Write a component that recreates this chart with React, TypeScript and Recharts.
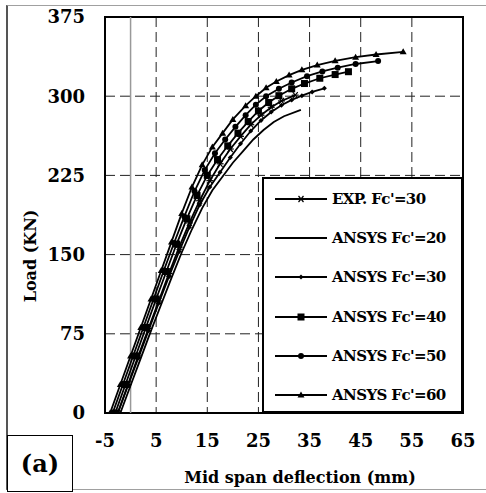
import React from 'react';
import { LineChart, Line, XAxis, YAxis, CartesianGrid, ReferenceLine, ReferenceArea, Legend } from 'recharts';

// Mid span deflection (mm) / Load (KN)
const expFc30X = [-2.5, -0.5, 1.5, 3.5, 5.5, 7.5, 9.5, 11.5, 13.5, 15.5, 17.5, 19.5, 21.5, 23.5, 25.5, 27.5, 29.5, 32.2];
const expFc30Y = [0, 27, 54, 80, 106, 132, 157, 180, 201, 220, 236, 250, 262, 273, 282, 289.5, 295.5, 301];

const ansysFc20X = [-2, 0, 2, 4, 6, 8, 10, 12, 14, 16, 18, 20, 22, 24, 26, 28, 30, 33.3];
const ansysFc20Y = [0, 26, 52, 78, 103, 128, 152, 174, 194, 211, 224, 237, 248, 259, 268, 275.5, 281, 287];

const ansysFc30X = [-2.5, -0.5, 1.5, 3.5, 5.5, 7.5, 9.5, 11.5, 13.5, 15.5, 17.5, 19.5, 21.5, 23.5, 25.5, 27.5, 29.5, 31.5, 33.5, 35.5, 37.9];
const ansysFc30Y = [0, 26, 52, 78, 104, 129, 153, 176, 197, 214, 228, 242, 255, 267, 277, 285, 291.5, 296.5, 300.5, 304, 307.5];

const ansysFc40X = [-3, -1, 1, 3, 5, 7, 9, 11, 13, 15, 17, 19, 21, 23, 25, 27, 29, 31.5, 34, 37, 40, 42.6];
const ansysFc40Y = [0, 27, 54, 81, 108, 134, 160, 184, 206, 225, 240, 253, 265, 276, 286, 294, 300.5, 307, 312, 317, 320.5, 323.2];

const ansysFc50X = [-3.5, -1.5, 0.5, 2.5, 4.5, 6.5, 8.5, 10.5, 12.5, 14.5, 16.5, 18.5, 20.5, 22.5, 24.5, 26.5, 29, 31.5, 34.5, 37.5, 40.5, 44, 48.4];
const ansysFc50Y = [0, 27, 54, 81, 108, 135, 161, 186, 210, 230, 246, 259, 271, 282, 292, 300, 307, 313, 319, 323.5, 327, 330.5, 333.3];

const ansysFc60X = [-4, -2, 0, 2, 4, 6, 8, 10, 12, 14, 16, 18, 20, 22.5, 24.5, 26.5, 28.5, 31, 33.5, 36.5, 40, 44, 48, 53.3];
const ansysFc60Y = [0, 27, 54, 81, 108, 135, 162, 189, 214, 235, 252, 265, 278, 291, 300, 308, 314, 320, 325, 329.5, 333.5, 337, 339.5, 342];

const xTicks = [-5, 5, 15, 25, 35, 45, 55, 65];
const yTicks = [0, 75, 150, 225, 300, 375];

const FONT = '"DejaVu Serif", serif';

type Shape = 'asterisk' | 'none' | 'diamond' | 'square' | 'circle' | 'triangle';

const zip = (xs: number[], ys: number[]) => xs.map((x, i) => ({ x, y: ys[i] }));

const series: { name: string; data: { x: number; y: number }[]; shape: Shape }[] = [
  { name: "EXP. Fc'=30", data: zip(expFc30X, expFc30Y), shape: 'asterisk' },
  { name: "ANSYS Fc'=20", data: zip(ansysFc20X, ansysFc20Y), shape: 'none' },
  { name: "ANSYS Fc'=30", data: zip(ansysFc30X, ansysFc30Y), shape: 'diamond' },
  { name: "ANSYS Fc'=40", data: zip(ansysFc40X, ansysFc40Y), shape: 'square' },
  { name: "ANSYS Fc'=50", data: zip(ansysFc50X, ansysFc50Y), shape: 'circle' },
  { name: "ANSYS Fc'=60", data: zip(ansysFc60X, ansysFc60Y), shape: 'triangle' },
];

// marker glyphs, used both on the curves and in the legend
const Marker = ({ shape, cx, cy }: { shape: Shape; cx: number; cy: number }) => {
  switch (shape) {
    case 'asterisk':
      return (
        <g stroke="#000" strokeWidth={1.2}>
          <line x1={cx - 3.5} y1={cy} x2={cx + 3.5} y2={cy} />
          <line x1={cx - 2.5} y1={cy - 3} x2={cx + 2.5} y2={cy + 3} />
          <line x1={cx - 2.5} y1={cy + 3} x2={cx + 2.5} y2={cy - 3} />
        </g>
      );
    case 'diamond':
      return <polygon points={`${cx},${cy - 2.5} ${cx + 2.5},${cy} ${cx},${cy + 2.5} ${cx - 2.5},${cy}`} fill="#000" />;
    case 'square':
      return <rect x={cx - 3.5} y={cy - 3.5} width={7} height={7} fill="#000" />;
    case 'circle':
      return <circle cx={cx} cy={cy} r={3} fill="#000" />;
    case 'triangle':
      return <polygon points={`${cx},${cy - 3.5} ${cx + 3.5},${cy + 2.5} ${cx - 3.5},${cy + 2.5}`} fill="#000" />;
    default:
      return null;
  }
};

const makeDot = (shape: Shape) => (props: any) => (
  <g key={`d-${props.index}`}>
    {shape !== 'none' && <Marker shape={shape} cx={props.cx} cy={props.cy} />}
  </g>
);

const LegendBox = () => (
  <div>
    {series.map((s) => (
      <div key={s.name} style={{ display: 'flex', alignItems: 'center', height: 39.3 }}>
        <svg width={52} height={14} style={{ marginLeft: 11, marginRight: 5 }}>
          <line x1={0} y1={7} x2={52} y2={7} stroke="#000" strokeWidth={2} />
          <Marker shape={s.shape} cx={26} cy={7} />
        </svg>
        <span style={{ fontFamily: FONT, fontWeight: 'bold', fontSize: 15, letterSpacing: -0.6, color: '#000' }}>
          {s.name}
        </span>
      </div>
    ))}
  </div>
);

export default function App() {
  const tickStyle = { fill: '#000', fontSize: 18, fontWeight: 'bold', fontFamily: FONT };

  return (
    <div style={{ position: 'absolute', left: 0, top: 0, width: 486, height: 493, background: '#fff' }}>
      <div style={{ position: 'absolute', left: 6, top: 5, width: 478, height: 483, border: '1px solid #a0a0a0', borderLeft: '2px solid #555' }} />
      <LineChart width={486} height={493} margin={{ top: 17, right: 23, bottom: 50, left: 45 }}>
        <CartesianGrid stroke="#222" strokeDasharray="10 5" />
        <ReferenceLine x={0} stroke="#999" strokeWidth={1.5} />
        <XAxis
          type="number"
          dataKey="x"
          domain={[-5, 65]}
          ticks={xTicks}
          allowDataOverflow
          axisLine={false}
          tickLine={false}
          tickMargin={15}
          height={30}
          tick={tickStyle}
          label={({ viewBox }: any) => (
            <text
              x={viewBox.x + viewBox.width / 2 + 16}
              y={viewBox.y + 64}
              textAnchor="middle"
              dominantBaseline="central"
              fontFamily={FONT}
              fontWeight="bold"
              fontSize={16}
              fill="#000"
            >
              Mid span deflection (mm)
            </text>
          )}
        />
        <YAxis
          type="number"
          domain={[0, 375]}
          ticks={yTicks}
          allowDataOverflow
          axisLine={false}
          tickLine={false}
          tickMargin={14}
          width={60}
          tick={tickStyle}
          label={({ viewBox }: any) => {
            const cx = viewBox.x - 15;
            const cy = viewBox.y + viewBox.height / 2 + 41;
            return (
              <text
                x={cx}
                y={cy}
                transform={`rotate(-90 ${cx} ${cy})`}
                textAnchor="middle"
                dominantBaseline="central"
                fontFamily={FONT}
                fontWeight="bold"
                fontSize={16}
                fill="#000"
              >
                Load (KN)
              </text>
            );
          }}
        />
        <ReferenceArea x1={-5} x2={65} y1={0} y2={375} fill="none" stroke="#000" strokeWidth={2} />
        {series.map((s) => (
          <Line
            key={s.name}
            name={s.name}
            data={s.data}
            dataKey="y"
            stroke="#000"
            strokeWidth={1.8}
            dot={makeDot(s.shape)}
            activeDot={false}
            isAnimationActive={false}
          />
        ))}
        <Legend
          layout="vertical"
          align="center"
          verticalAlign="middle"
          content={<LegendBox />}
          wrapperStyle={{
            left: 262,
            top: 177,
            width: 201,
            height: 236,
            boxSizing: 'border-box',
            border: '2px solid #000',
            background: '#fff',
          }}
        />
      </LineChart>
      <div
        style={{
          position: 'absolute',
          left: 7,
          top: 435,
          width: 66,
          height: 57,
          boxSizing: 'border-box',
          border: '1.5px solid #000',
          background: '#fff',
          display: 'flex',
          alignItems: 'center',
          justifyContent: 'center',
          fontFamily: FONT,
          fontWeight: 'bold',
          fontSize: 24,
        }}
      >
        (a)
      </div>
    </div>
  );
}
